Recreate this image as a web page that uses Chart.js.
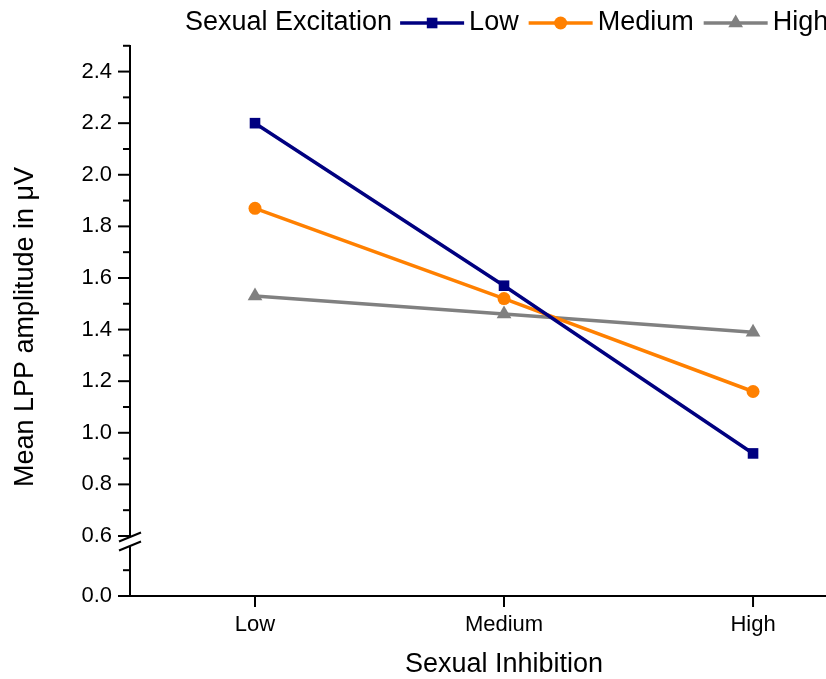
<!DOCTYPE html>
<html lang="en">
<head>
    <meta charset="UTF-8">
    <title>Mean LPP amplitude</title>
    <style>
        html, body { margin: 0; padding: 0; background: #fff; }
        #chart { display: block; }
    </style>
</head>
<body>
    <canvas id="chart" width="826" height="679"></canvas>

    <script src="https://cdn.jsdelivr.net/npm/chart.js"></script>
    <script>
    // categories of sexual inhibition (x axis)
    const categories = ['Low', 'Medium', 'High'];
    // sexual excitation groups (legend)
    const groups = ['Low', 'Medium', 'High'];
    const seLow = [2.20, 1.57, 0.92];
    const seMedium = [1.87, 1.52, 1.16];
    const seHigh = [1.53, 1.46, 1.39];
    // y ticks above the break, plus the 0.0 tick below it
    const yMajorTicks = [0.6, 0.8, 1.0, 1.2, 1.4, 1.6, 1.8, 2.0, 2.2, 2.4];
    const yMinorTicks = [0.7, 0.9, 1.1, 1.3, 1.5, 1.7, 1.9, 2.1, 2.3, 2.5];

    // the lower segment (0.0 .. ~0.2) is shifted up under the break
    const BREAK_SHIFT = 0.3674;
    const toAxis = v => v >= 0.6 ? v : v + BREAK_SHIFT;

    const FONT = '"Liberation Sans", Arial, sans-serif';
    const colors = ['#000080', '#FF8000', '#808080'];
    const styles = ['rect', 'circle', 'triangle'];
    const radii = [7.5, 6.5, 8.5];

    const seriesData = [seLow, seMedium, seHigh];

    const datasets = groups.map((g, i) => ({
        label: g,
        data: seriesData[i].map((v, j) => ({ x: j, y: v })),
        borderColor: colors[i],
        backgroundColor: colors[i],
        pointBackgroundColor: colors[i],
        pointBorderColor: colors[i],
        pointStyle: styles[i],
        pointRadius: radii[i],
        pointBorderWidth: 0,
        borderWidth: 3.5,
        tension: 0
    }));

    function tick(ctx, x1, y1, x2, y2) {
        ctx.beginPath();
        ctx.moveTo(x1, y1);
        ctx.lineTo(x2, y2);
        ctx.stroke();
    }

    const axesPlugin = {
        id: 'axes',
        afterDraw(chart) {
            const ctx = chart.ctx;
            const xs = chart.scales.x, ys = chart.scales.y;
            const area = chart.chartArea;
            const x0 = area.left, yBase = area.bottom;
            ctx.save();
            ctx.strokeStyle = '#000';
            ctx.fillStyle = '#000';
            ctx.lineWidth = 2;

            // axis lines
            tick(ctx, x0, area.top, x0, yBase + 1);
            tick(ctx, x0 - 1, yBase, area.right, yBase);

            // y ticks
            ctx.font = '22px ' + FONT;
            ctx.textAlign = 'right';
            ctx.textBaseline = 'middle';
            yMajorTicks.forEach(v => {
                const y = ys.getPixelForValue(v);
                tick(ctx, x0 - 12, y, x0, y);
                ctx.fillText(v.toFixed(1), x0 - 18, y);
            });
            yMinorTicks.forEach(v => {
                const y = ys.getPixelForValue(v);
                tick(ctx, x0 - 7, y, x0, y);
            });
            const yMinor0 = ys.getPixelForValue(toAxis(0.1));
            tick(ctx, x0 - 7, yMinor0, x0, yMinor0);
            const yZero = ys.getPixelForValue(toAxis(0));
            tick(ctx, x0 - 12, yZero, x0, yZero);
            ctx.fillText('0.0', x0 - 18, yZero);

            // axis break
            const yb = ys.getPixelForValue(0.6) + 1;
            const gap = 9, dx = 11, dy = 4.5;
            ctx.fillStyle = '#fff';
            ctx.beginPath();
            ctx.moveTo(x0 - dx, yb + dy);
            ctx.lineTo(x0 + dx, yb - dy);
            ctx.lineTo(x0 + dx, yb - dy + gap);
            ctx.lineTo(x0 - dx, yb + dy + gap);
            ctx.closePath();
            ctx.fill();
            ctx.fillStyle = '#000';
            tick(ctx, x0 - dx, yb + dy, x0 + dx, yb - dy);
            tick(ctx, x0 - dx, yb + dy + gap, x0 + dx, yb - dy + gap);

            // x ticks
            ctx.textAlign = 'center';
            ctx.textBaseline = 'top';
            categories.forEach((c, i) => {
                const x = xs.getPixelForValue(i);
                tick(ctx, x, yBase, x, yBase + 11);
                ctx.fillText(c, x, yBase + 18);
            });

            // titles
            ctx.font = '27px ' + FONT;
            ctx.textBaseline = 'middle';
            ctx.fillText('Sexual Inhibition', 504, 665);
            ctx.save();
            ctx.translate(26, 327);
            ctx.rotate(-Math.PI / 2);
            ctx.fillText('Mean LPP amplitude in μV', 0, 0);
            ctx.restore();

            // legend
            ctx.textAlign = 'left';
            ctx.textBaseline = 'middle';
            const ly = 23;
            let lx = 185;
            ctx.fillText('Sexual Excitation', lx, ly);
            lx += ctx.measureText('Sexual Excitation').width + 8;
            chart.data.datasets.forEach(ds => {
                ctx.strokeStyle = ds.borderColor;
                ctx.lineWidth = 3.5;
                tick(ctx, lx, ly, lx + 64, ly);
                ctx.fillStyle = ds.borderColor;
                Chart.helpers.drawPoint(ctx, {
                    pointStyle: ds.pointStyle,
                    radius: ds.pointRadius,
                    borderWidth: 0,
                    rotation: 0
                }, lx + 32, ly);
                ctx.fillStyle = '#000';
                lx += 69;
                ctx.fillText(ds.label, lx, ly);
                lx += ctx.measureText(ds.label).width + 10;
            });
            ctx.restore();
        }
    };

    new Chart(document.getElementById('chart'), {
        type: 'line',
        data: { datasets: datasets },
        options: {
            responsive: false,
            animation: false,
            layout: { autoPadding: false, padding: { left: 130, top: 45, right: 0, bottom: 83 } },
            plugins: { legend: { display: false }, tooltip: { enabled: false } },
            scales: {
                x: { type: 'linear', min: -0.502, max: 2.293, display: false },
                y: { type: 'linear', min: toAxis(0), max: 2.503, display: false }
            }
        },
        plugins: [axesPlugin]
    });
    </script>
</body>
</html>
